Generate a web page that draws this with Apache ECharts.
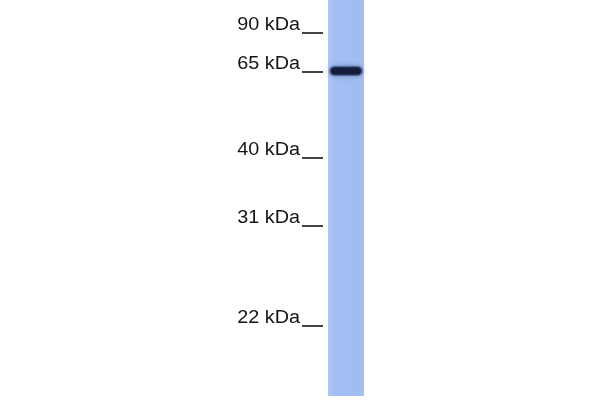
<!DOCTYPE html>
<html>
<head>
<meta charset="utf-8">
<script src="https://cdn.jsdelivr.net/npm/echarts@6/dist/echarts.min.js"></script>
<style>
  html, body { margin: 0; padding: 0; background: #fff; }
  #main { width: 600px; height: 400px; }
</style>
</head>
<body>
<div id="main"></div>
<script>
// marker ladder (migration distance from top of gel)
const markerLabels = ['90 kDa', '65 kDa', '40 kDa', '31 kDa', '22 kDa'];
const markerPos = [33, 72, 158, 226, 326];
// detected band(s) in the sample lane
const bandPos = [71];
const bandStrength = [1];

let chart = echarts.init(document.getElementById('main'), null, { renderer: 'canvas' });

// lane layout
const laneLeft = 328, laneRight = 364, laneBottom = 396;

function renderLane(params, api) {
  const p0 = api.coord([laneLeft, 0]);
  const p1 = api.coord([laneRight, laneBottom]);
  return {
    type: 'rect',
    shape: { x: p0[0], y: p0[1], width: p1[0] - p0[0], height: p1[1] - p0[1] },
    style: {
      fill: new echarts.graphic.LinearGradient(0, 0, 1, 0, [
        { offset: 0, color: '#aec8f4' },
        { offset: 0.15, color: '#a2bff2' },
        { offset: 0.85, color: '#a0bdf1' },
        { offset: 1, color: '#a7c3f3' }
      ])
    }
  };
}

function renderBand(params, api) {
  const y = api.coord([0, api.value(0)])[1];
  const x0 = api.coord([laneLeft + 1, 0])[0];
  const x1 = api.coord([laneRight - 1, 0])[0];
  const a = api.value(1);
  return {
    type: 'group',
    children: [
      {
        type: 'rect',
        shape: { x: x0, y: y - 5, width: x1 - x0, height: 10, r: 5 },
        style: { fill: 'rgba(50,72,125,' + 0.5 * a + ')', shadowBlur: 6, shadowColor: 'rgba(50,72,130,0.7)' }
      },
      {
        type: 'rect',
        shape: { x: x0 + 2, y: y - 3.5, width: x1 - x0 - 4, height: 7, r: 3.5 },
        style: { fill: 'rgba(20,30,58,' + a + ')', shadowBlur: 3, shadowColor: 'rgba(20,30,60,0.9)' }
      }
    ]
  };
}

function renderMarker(params, api) {
  const idx = api.value(0);
  const y = api.coord([0, api.value(1)])[1];
  const xText = api.coord([300, 0])[0];
  const xa = api.coord([302, 0])[0];
  const xb = api.coord([323, 0])[0];
  return {
    type: 'group',
    children: [
      {
        type: 'text',
        x: xText,
        y: y - 8,
        scaleX: 1.1,
        style: {
          x: 0, y: 0,
          text: markerLabels[idx],
          fill: '#141414',
          fontSize: 18,
          fontFamily: 'Liberation Sans, Arial, sans-serif',
          align: 'right',
          verticalAlign: 'middle'
        }
      },
      {
        type: 'line',
        shape: { x1: xa, y1: y, x2: xb, y2: y },
        style: { stroke: '#141414', lineWidth: 1.6 }
      }
    ]
  };
}

var option = {
  animation: false,
  grid: { left: 0, right: 0, top: 0, bottom: 0 },
  xAxis: { type: 'value', min: 0, max: 600, show: false },
  yAxis: { type: 'value', min: 0, max: 400, inverse: true, show: false },
  series: [
    {
      type: 'custom',
      name: 'lane',
      renderItem: renderLane,
      data: [[0]],
      silent: true
    },
    {
      type: 'custom',
      name: 'band',
      renderItem: renderBand,
      data: bandPos.map((p, i) => [p, bandStrength[i]]),
      silent: true
    },
    {
      type: 'custom',
      name: 'marker',
      renderItem: renderMarker,
      data: markerPos.map((p, i) => [i, p]),
      silent: true
    }
  ]
};

chart.setOption(option);
</script>
</body>
</html>
